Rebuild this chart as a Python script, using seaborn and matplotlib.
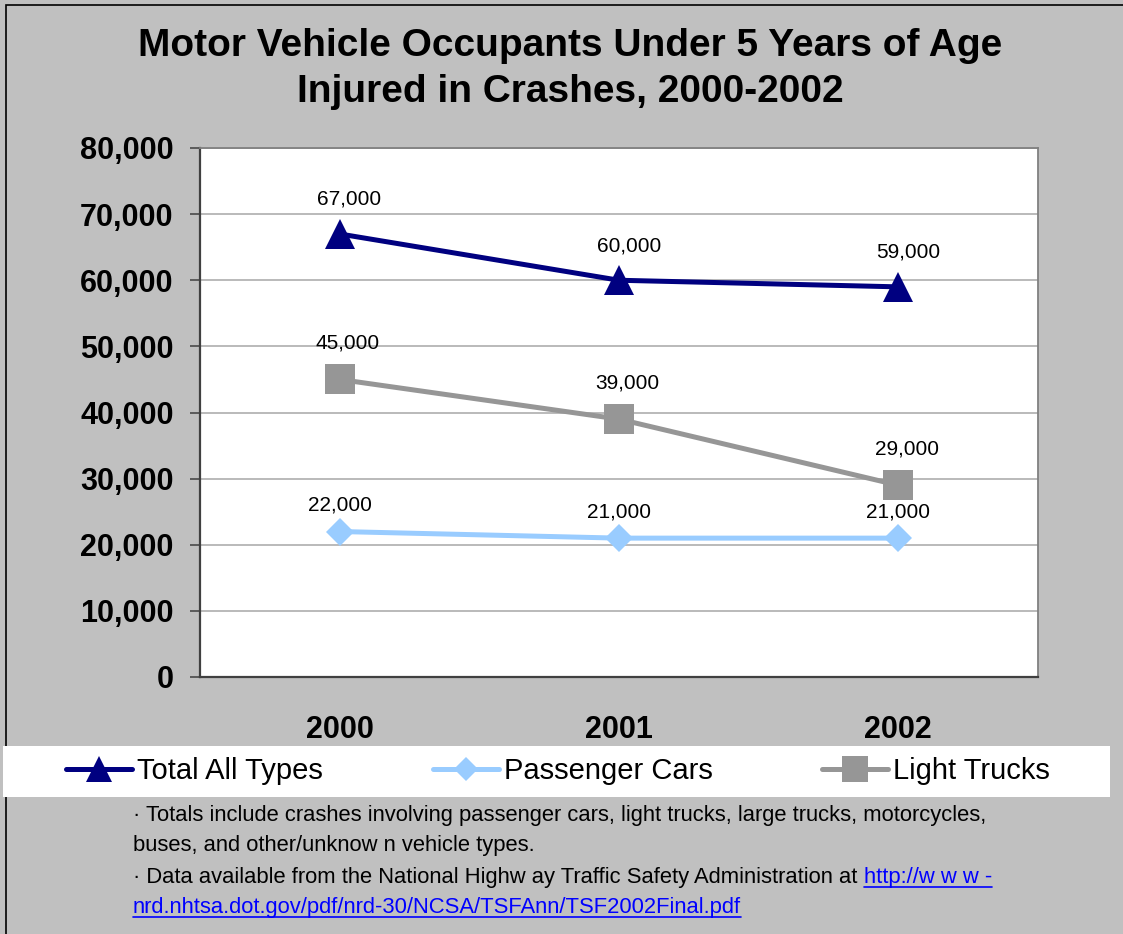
import pandas as pd
import seaborn as sns
import matplotlib.pyplot as plt
from matplotlib.lines import Line2D
from matplotlib.patches import Rectangle

# data
years = ['2000', '2001', '2002']
total_all = [67000, 60000, 59000]
passenger_cars = [22000, 21000, 21000]
light_trucks = [45000, 39000, 29000]

series_names = ['Total All Types', 'Passenger Cars', 'Light Trucks']
series_values = [total_all, passenger_cars, light_trucks]

colors = {'Total All Types': '#000080', 'Passenger Cars': '#99CCFF', 'Light Trucks': '#969696'}
markers = {'Total All Types': '^', 'Passenger Cars': 'D', 'Light Trucks': 's'}
msizes = {'Total All Types': 21, 'Passenger Cars': 14, 'Light Trucks': 21}
label_dx = {'Total All Types': 7, 'Passenger Cars': 0, 'Light Trucks': 6}
label_dy = {'Total All Types': 25, 'Passenger Cars': 19, 'Light Trucks': 26}

sns.set_style('white')
plt.rcParams['font.family'] = ['Liberation Sans', 'DejaVu Sans']
plt.rcParams['text.color'] = 'black'
plt.rcParams['xtick.color'] = 'black'
plt.rcParams['ytick.color'] = 'black'

W, H = 1123, 934
fig = plt.figure(figsize=(W / 100, H / 100), dpi=100, facecolor='#C0C0C0')
ax = fig.add_axes([200 / W, 1 - 677 / H, (1038 - 200) / W, (677 - 148) / H])
ax.set_facecolor('white')

# outer frame (top and left edges visible)
fig.patches.append(Rectangle((6 / W, -0.1), 1.2, 1.1 - 5 / H, transform=fig.transFigure,
                             fill=False, edgecolor='black', lw=1.2))

handles = []
for name, vals in zip(series_names, series_values):
    df = pd.DataFrame({'Year': years, 'Injured': vals})
    sns.lineplot(data=df, x='Year', y='Injured', ax=ax, color=colors[name], lw=3.6,
                 marker=markers[name], markersize=msizes[name], markeredgewidth=0,
                 zorder=3)
    for i, v in enumerate(vals):
        ax.annotate(f'{v:,}', (i, v), xytext=(label_dx[name], label_dy[name]),
                    textcoords='offset points', ha='center', va='center', fontsize=15,
                    zorder=4)
    handles.append(Line2D([], [], color=colors[name], lw=3.6, marker=markers[name],
                          markersize=msizes[name] * 0.9, markeredgewidth=0))

ax.set_xlim(-0.5, 2.5)
ax.set_ylim(0, 80000)
ax.set_yticks(range(0, 80001, 10000))
ax.set_yticklabels([f'{t:,}' for t in range(0, 80001, 10000)], fontsize=22, fontweight='bold')
ax.set_xticks(range(len(years)))
ax.set_xticklabels(years, fontsize=22, fontweight='bold')
ax.set_xticks([-0.5, 0.5, 1.5, 2.5], minor=True)
ax.tick_params(axis='x', which='major', length=0, pad=27)
ax.tick_params(axis='x', which='minor', length=7, width=1.1, color='#404040', direction='out')
ax.tick_params(axis='y', length=7, width=1.1, color='#404040', direction='out', left=True, pad=12)
ax.set_xlabel('')
ax.set_ylabel('')
ax.grid(axis='y', color='#B4B4B4', lw=1.3)
ax.set_axisbelow(True)
for side in ['left', 'bottom']:
    ax.spines[side].set_color('#404040')
    ax.spines[side].set_linewidth(1.6)
for side in ['top', 'right']:
    ax.spines[side].set_color('#808080')
    ax.spines[side].set_linewidth(1.3)

# title
fig.text(570 / W, 1 - 46 / H, 'Motor Vehicle Occupants Under 5 Years of Age',
         ha='center', va='center', fontsize=28, fontweight='bold')
fig.text(570 / W, 1 - 92 / H, 'Injured in Crashes, 2000-2002',
         ha='center', va='center', fontsize=28, fontweight='bold')

# legend band
fig.patches.append(Rectangle((3 / W, 1 - 797 / H), (1110 - 3) / W, 51 / H,
                             transform=fig.transFigure, facecolor='white', edgecolor='none'))
fig.legend(handles, series_names, loc='center', bbox_to_anchor=(558 / W, 1 - 771 / H),
           ncol=3, frameon=False, fontsize=21, handlelength=2.26, handletextpad=0.17,
           columnspacing=3.77, borderpad=0)

# footnotes
fs = 15.8
x0 = 133 / W
fig.text(x0, 1 - 815 / H,
         '\u00b7 Totals include crashes involving passenger cars, light trucks, large trucks, motorcycles,',
         fontsize=fs, va='center')
fig.text(x0, 1 - 846 / H, 'buses, and other/unknow n vehicle types.', fontsize=fs, va='center')
t3 = fig.text(x0, 1 - 877 / H,
              '\u00b7 Data available from the National Highw ay Traffic Safety Administration at ',
              fontsize=fs, va='center')
fig.canvas.draw()
r = fig.canvas.get_renderer()
bb = t3.get_window_extent(r).transformed(fig.transFigure.inverted())
link1 = fig.text(bb.x1, 1 - 877 / H, 'http://w w w -', fontsize=fs, va='center', color='#0000FF')
link2 = fig.text(x0, 1 - 907 / H, 'nrd.nhtsa.dot.gov/pdf/nrd-30/NCSA/TSFAnn/TSF2002Final.pdf',
                 fontsize=fs, va='center', color='#0000FF')
fig.canvas.draw()
for lt in [link1, link2]:
    b = lt.get_window_extent(r).transformed(fig.transFigure.inverted())
    fig.lines.append(Line2D([b.x0, b.x1], [b.y0 + 1 / H, b.y0 + 1 / H], transform=fig.transFigure,
                            color='#0000FF', lw=1.2))

fig.savefig('out.png', dpi=100, facecolor=fig.get_facecolor())
